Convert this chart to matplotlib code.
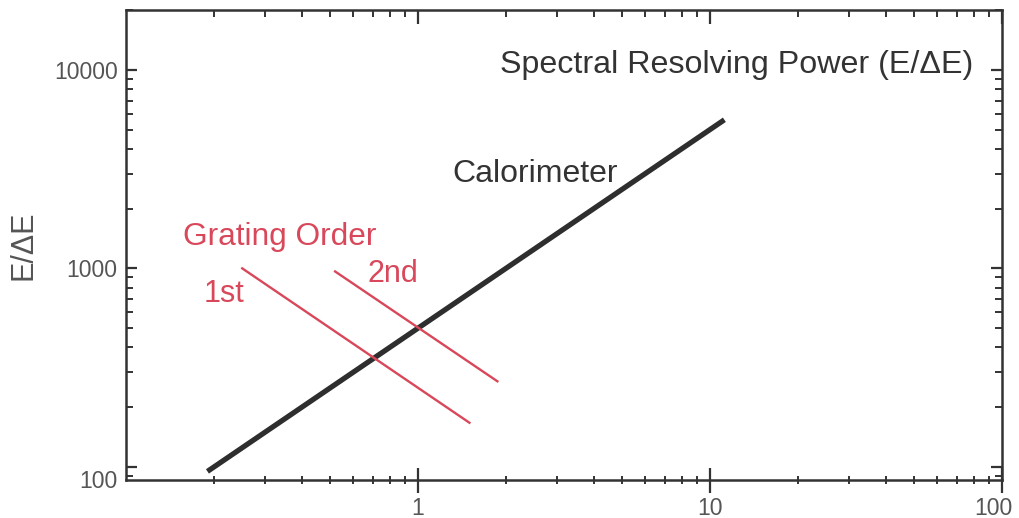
import matplotlib
matplotlib.use('Agg')
from matplotlib import pyplot as plt
from matplotlib.ticker import FixedLocator, NullFormatter, LogLocator
from matplotlib.transforms import ScaledTranslation

plt.rcParams['font.family'] = ['Liberation Sans', 'DejaVu Sans']

# energy (keV) vs resolving power E/dE
calorimeter_E = [0.19, 11.2]
calorimeter_R = [95, 5600]
first_order_E = [0.25, 1.5]
first_order_R = [1000, 167]
second_order_E = [0.52, 1.87]
second_order_R = [965, 270]

xtick_vals = [1, 10, 100]
xtick_labels = ['1', '10', '100']
ytick_vals = [100, 1000, 10000]
ytick_labels = ['100', '1000', '10000']

dark = '#2e2e2e'
red = '#d8485a'
gray = '#555555'

fig = plt.figure(figsize=(10.19, 5.18), dpi=100)
ax = fig.add_axes([0.1237, 0.0734, 0.8596, 0.9073])
ax.set_xscale('log')
ax.set_yscale('log')
ax.set_xlim(0.1, 100)
ax.set_ylim(86, 20000)

ax.plot(calorimeter_E, calorimeter_R, color=dark, lw=3.8, solid_capstyle='butt')
ax.plot(first_order_E, first_order_R, color=red, lw=1.7)
ax.plot(second_order_E, second_order_R, color=red, lw=1.7)

for s in ax.spines.values():
    s.set_linewidth(1.8)
    s.set_color('#333333')

ax.xaxis.set_major_locator(FixedLocator(xtick_vals))
ax.set_xticklabels(xtick_labels)
ax.yaxis.set_major_locator(FixedLocator(ytick_vals))
ax.set_yticklabels(ytick_labels)
ax.xaxis.set_minor_locator(LogLocator(subs=range(2, 10)))
ax.yaxis.set_minor_locator(LogLocator(subs=range(2, 10)))
ax.xaxis.set_minor_formatter(NullFormatter())
ax.yaxis.set_minor_formatter(NullFormatter())

ax.tick_params(axis='x', which='major', direction='inout', length=18, width=1.6,
               labelsize=16.5, labelcolor=gray, color='#333333', pad=3)
ax.tick_params(axis='x', which='minor', direction='inout', length=6, width=1.4, color='#333333')
ax.tick_params(axis='y', which='major', direction='in', length=8, width=1.6,
               labelsize=16.5, labelcolor=gray, color='#333333', right=True, pad=6)
ax.tick_params(axis='y', which='minor', direction='in', length=5, width=1.4,
               color='#333333', right=True)

# nudge the corner labels like the original
lab = ax.get_xticklabels()[-1]
lab.set_transform(lab.get_transform() + ScaledTranslation(-0.09, 0, fig.dpi_scale_trans))
lab = ax.get_yticklabels()[0]
lab.set_transform(lab.get_transform() + ScaledTranslation(0, -0.12, fig.dpi_scale_trans))

top = ax.secondary_xaxis('top')
top.xaxis.set_major_locator(FixedLocator(xtick_vals))
top.xaxis.set_minor_locator(LogLocator(subs=range(2, 10)))
top.xaxis.set_major_formatter(NullFormatter())
top.xaxis.set_minor_formatter(NullFormatter())
top.tick_params(which='major', direction='in', length=10, width=1.6, color='#333333')
top.tick_params(which='minor', direction='in', length=5, width=1.4, color='#333333')
top.spines['top'].set_visible(False)

ax.set_ylabel('E/\u0394E', fontsize=22, color=gray)
ax.yaxis.set_label_coords(-0.10, 0.5)

ax.text(0.427, 0.866, 'Spectral Resolving Power (E/\u0394E)', transform=ax.transAxes,
        fontsize=23.2, color='#333333', ha='left', va='baseline')
ax.text(0.372, 0.634, 'Calorimeter', transform=ax.transAxes,
        fontsize=23, color='#333333', ha='left', va='baseline')
ax.text(0.065, 0.50, 'Grating Order', transform=ax.transAxes,
        fontsize=22.8, color=red, ha='left', va='baseline')
ax.text(0.088, 0.379, '1st', transform=ax.transAxes,
        fontsize=22, color=red, ha='left', va='baseline')
ax.text(0.276, 0.421, '2nd', transform=ax.transAxes,
        fontsize=22, color=red, ha='left', va='baseline')

plt.savefig('out.png', dpi=100)
